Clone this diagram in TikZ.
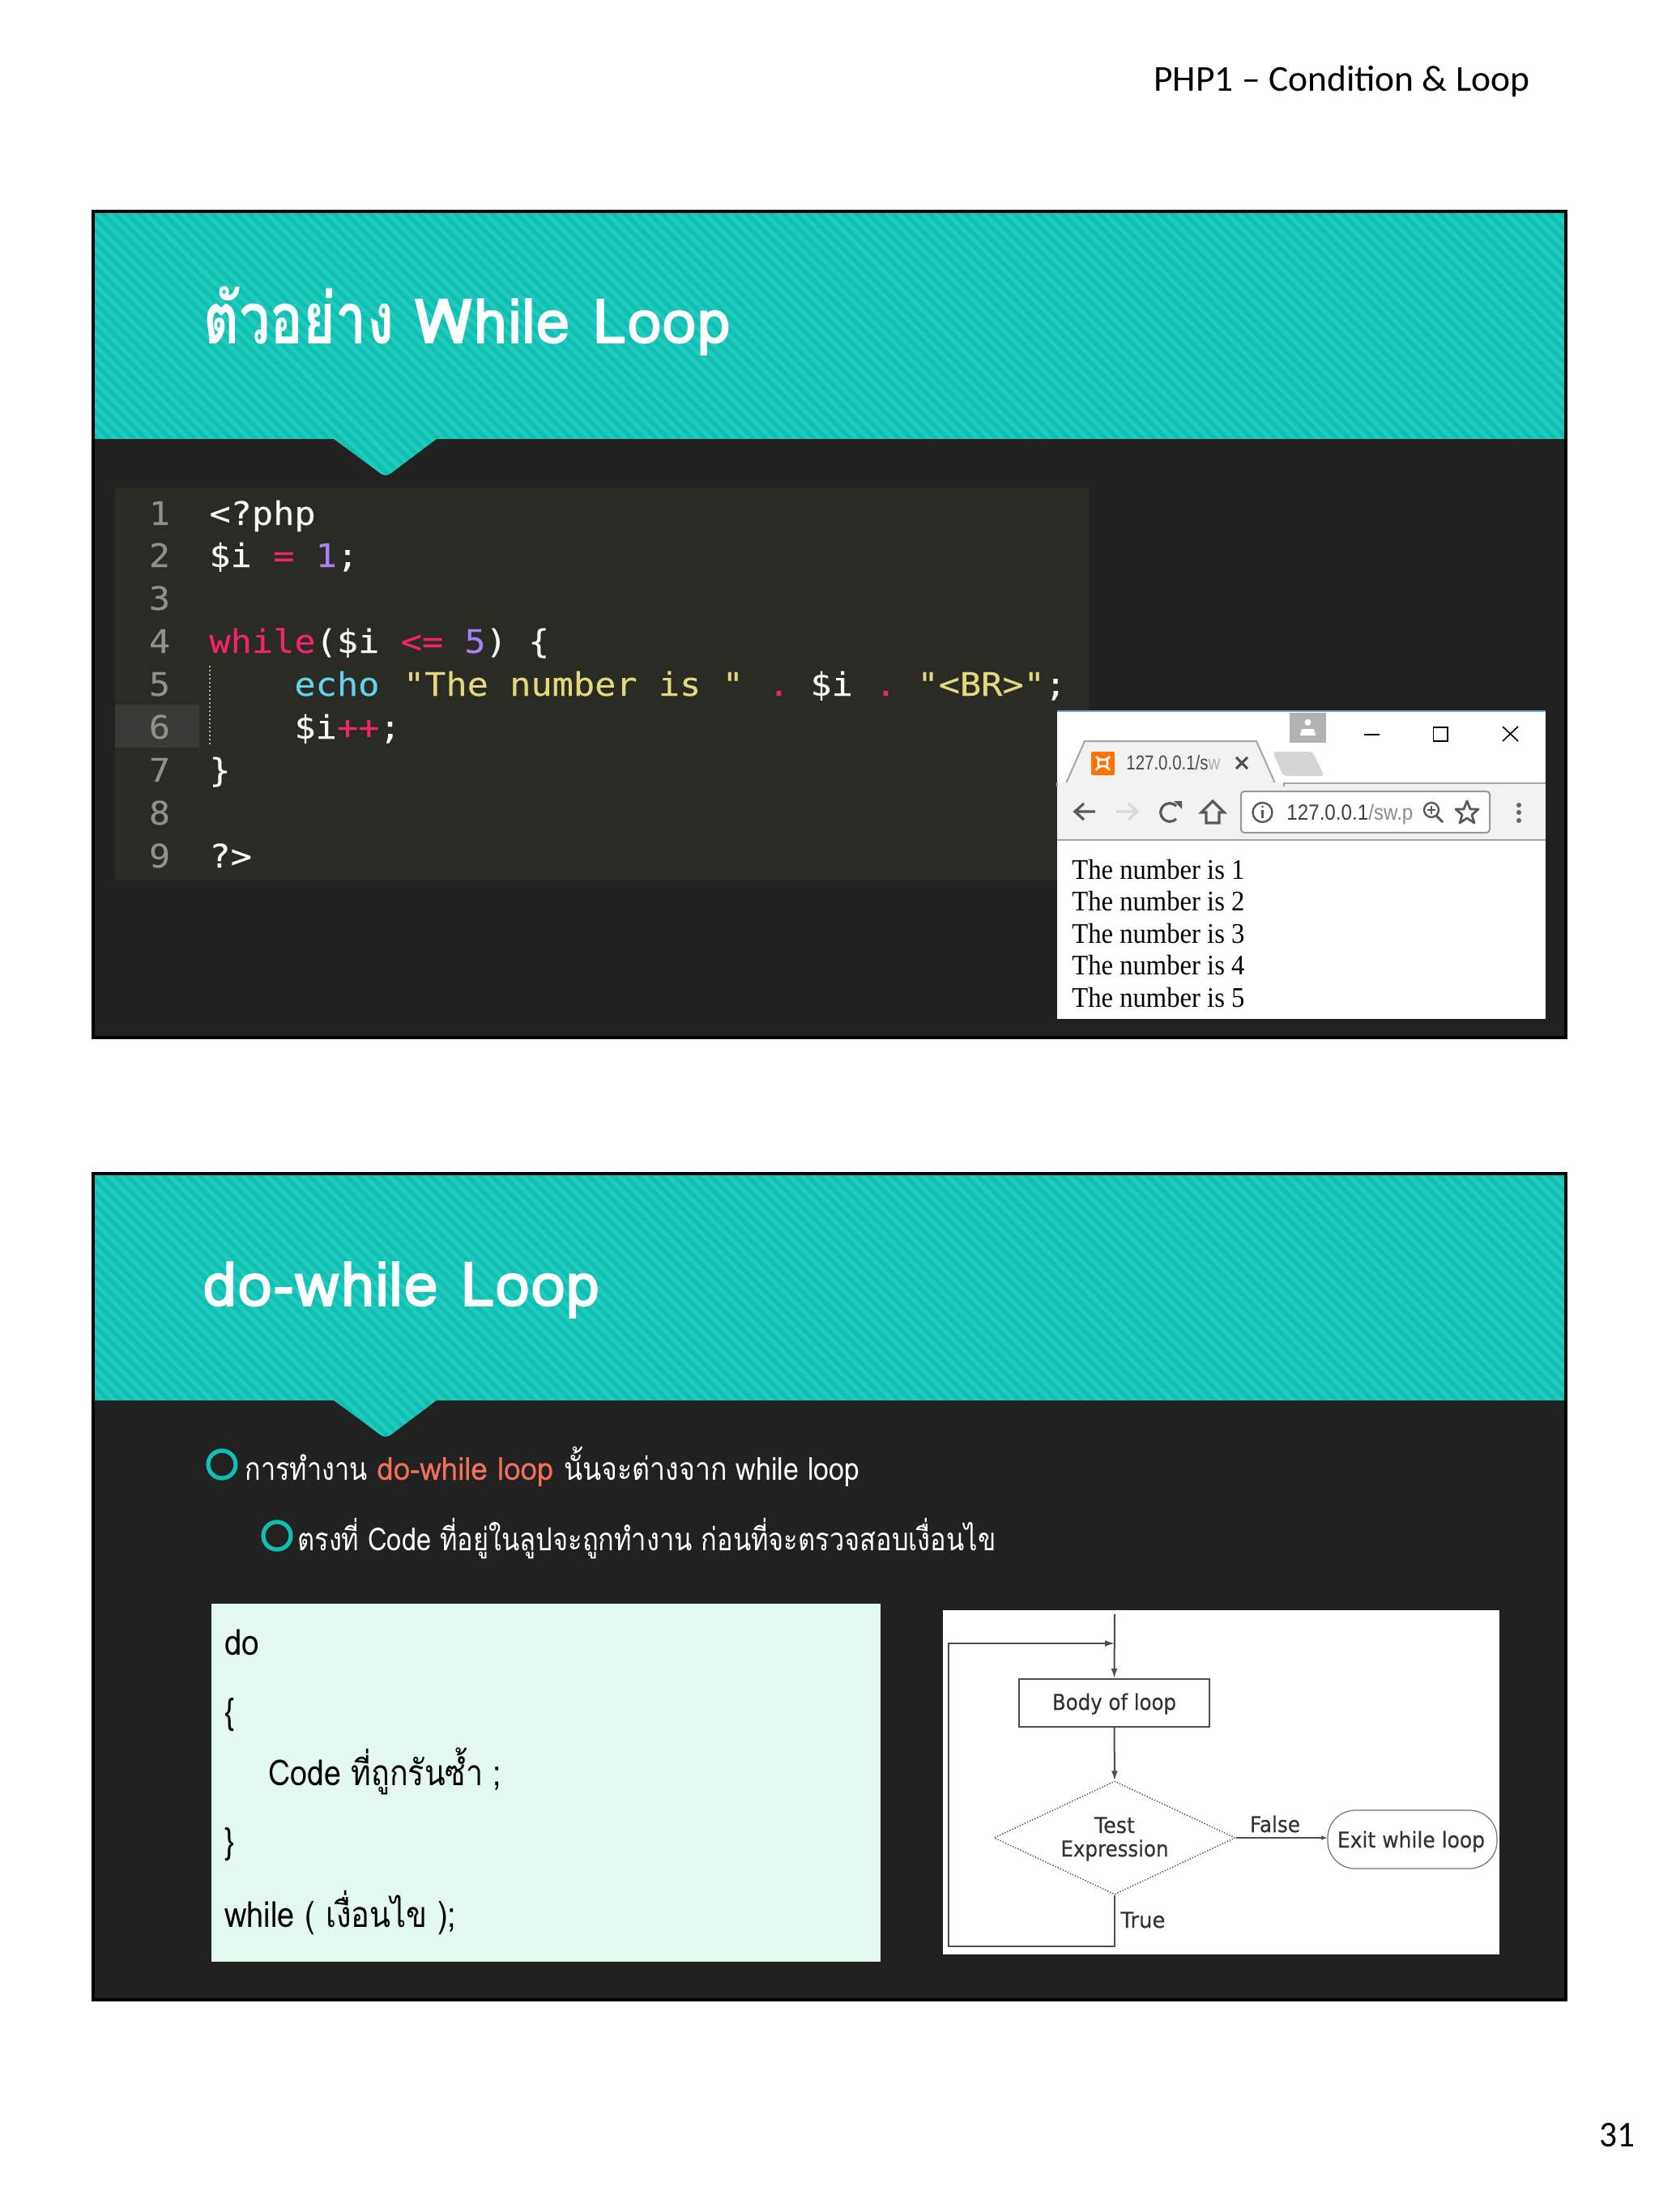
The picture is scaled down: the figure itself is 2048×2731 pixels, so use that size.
\documentclass[tikz,border=0pt]{standalone}
\usepackage{fontspec}
\usepackage{graphicx}
\usetikzlibrary{arrows.meta,shapes.geometric}
\newfontfamily\thaif[Script=Thai]{Loma}
\newfontfamily\thaifb[Script=Thai,FakeBold=0.3]{Loma}
\newfontfamily\codef[FakeBold=0.25]{DejaVu Sans Mono}
\newfontfamily\pagef{Liberation Serif}
\newfontfamily\hdrf{Carlito}
\newfontfamily\flowf[FakeBold=0.4]{DejaVu Sans}
\newfontfamily\uif{Liberation Sans}
\newlength\pxu \pxu=0.5pt
\newcommand{\fitw}[2]{\resizebox{#1\pxu}{\height}{#2}}
\newcommand{\cw}[1]{\scalebox{1.09}[1]{#1}}
\definecolor{slidebg}{HTML}{212121}
\definecolor{tealA}{HTML}{0FBFB1}
\definecolor{tealB}{HTML}{20CBBE}
\definecolor{codebg}{HTML}{2B2B26}
\definecolor{codehl}{HTML}{3A3A36}
\definecolor{lnum}{HTML}{8F908A}
\definecolor{cpink}{HTML}{F0246C}
\definecolor{cpurp}{HTML}{A97FF5}
\definecolor{ccyan}{HTML}{62D3E6}
\definecolor{cyell}{HTML}{E2D87C}
\definecolor{cwhite}{HTML}{F8F8F2}
\definecolor{mint}{HTML}{E3F9EE}
\definecolor{salmon}{HTML}{F0705A}
\definecolor{flowc}{HTML}{4A4F4F}
\definecolor{toolg}{HTML}{F2F2F2}
\tikzset{
 titlet/.style={anchor=base west,inner sep=0pt,text=white,font=\thaif\bfseries\fontsize{39pt}{39pt}\selectfont},
 titleth/.style={titlet,font=\thaif\bfseries\fontsize{44pt}{44pt}\selectfont},
 bodyt/.style={anchor=base west,inner sep=0pt,text=white,font=\thaif\fontsize{19.5pt}{19.5pt}\selectfont},
 greent/.style={anchor=base west,inner sep=0pt,text=black,font=\thaif\fontsize{22pt}{22pt}\selectfont},
 codet/.style={anchor=base west,inner sep=0pt,font=\codef\fontsize{20pt}{20pt}\selectfont},
 lnumt/.style={anchor=base,inner sep=0pt,text=lnum,font=\codef\fontsize{20pt}{20pt}\selectfont},
 paget/.style={anchor=base west,inner sep=0pt,text=black,font=\pagef\fontsize{17.5pt}{17.5pt}\selectfont},
 flowt/.style={anchor=base,inner sep=0pt,text=black!80,font=\flowf\fontsize{13.5pt}{13.5pt}\selectfont},
 hdrt/.style={anchor=base west,inner sep=0pt,font=\hdrf\fontsize{22.5pt}{22.5pt}\selectfont},
 fline/.style={draw=flowc,line width=1pt},
 farrow/.style={fline,-{Latex[length=6pt,width=4pt]}},
 ringb/.style={circle,draw=tealA,line width=2.6pt,minimum size=17pt,inner sep=0pt},
 icon/.style={line width=1.6pt,draw=black!65},
}
% slide: x0 y0 x1 y1 header-bottom
\newcommand{\slideframe}[5]{%
 \begin{scope}
 \clip (#1,#2) rectangle (#3,#5+60);
 \fill[tealA] (#1,#2) rectangle (#3,#5+60);
 \foreach \k in {-30,...,140}{
  \draw[tealB,line width=2.5pt] ({#1+\k*15},#2-2) -- ++(400,400);
 }
 \end{scope}
 \fill[slidebg] (#1,#5) -- (412,#5) -- (468,#5+41.5) .. controls (473,#5+46) and (479,#5+46) .. (484,#5+41.5) -- (539,#5) -- (#3,#5) -- (#3,#4) -- (#1,#4) -- cycle;
 \draw[black,line width=2pt] (#1,#2) rectangle (#3,#4);
}
\begin{document}
\begin{tikzpicture}[x=0.5pt,y=-0.5pt]
\useasboundingbox (0,0) rectangle (2048,2731);
\fill[white] (0,0) rectangle (2048,2731);
\node[hdrt] (hdr) at (1424,112) {\fitw{464}{PHP1 – Condition \& Loop}};
\node[hdrt] (pg) at (1974,2650) {\fitw{44}{31}};

% ---- slide 1
\slideframe{115}{261}{1933}{1281}{542}
\node[titleth] (t1a) at (251,424) {\fitw{235}{ตัวอย่าง}};
\node[titlet] (t1b) at (511,424) {\fitw{392}{While Loop}};

\fill[codebg] (142,602) rectangle (1344,1087);
\fill[codehl] (142,870) rectangle (246,923);
\draw[lnum!70,line width=.6pt,dash pattern=on 1pt off 1.5pt] (259,822) -- (259,920);
\foreach \n/\yy in {1/648,2/700,3/753,4/806,5/859,6/912,7/965,8/1018,9/1071}
 \node[lnumt] (ln\n) at (197,\yy) {\cw{\n}};
\node[codet] (c1) at (258,648) {\cw{\textcolor{cwhite}{<?php}}};
\node[codet] (c2) at (258,700) {\cw{\textcolor{cwhite}{\$i }\textcolor{cpink}{=} \textcolor{cpurp}{1}\textcolor{cwhite}{;}}};
\node[codet] (c4) at (258,806) {\cw{\textcolor{cpink}{while}\textcolor{cwhite}{(\$i }\textcolor{cpink}{<=} \textcolor{cpurp}{5}\textcolor{cwhite}{) \{}}};
\node[codet] (c5a) at (363,859) {\cw{\textcolor{ccyan}{echo}}};
\node[codet] (c5b) at (497.5,859) {\cw{\textcolor{cyell}{"The number is "}}};
\node[codet] (c5c) at (948,859) {\cw{\textcolor{cpink}{.}}};
\node[codet] (c5d) at (1000,859) {\cw{\textcolor{cwhite}{\$i}}};
\node[codet] (c5e) at (1080,859) {\cw{\textcolor{cpink}{.}}};
\node[codet] (c5f) at (1132,859) {\cw{\textcolor{cyell}{"<BR>"}\textcolor{cwhite}{;}}};
\node[codet] (c6) at (363,912) {\cw{\textcolor{cwhite}{\$i}\textcolor{cpink}{++}\textcolor{cwhite}{;}}};
\node[codet] (c7) at (258,965) {\cw{\textcolor{cwhite}{\}}}};
\node[codet] (c9) at (258,1071) {\cw{\textcolor{cwhite}{?>}}};

% browser
\fill[white] (1305,878) rectangle (1908,1258);
\draw[cyan!60!blue!60,line width=1pt] (1305,878) -- (1908,878);
\fill[toolg] (1305,967) rectangle (1908,1037);
\draw[black!35,line width=1pt] (1305,967) -- (1908,967);
\draw[black!35,line width=1pt] (1305,1037) -- (1908,1037);
\filldraw[fill=toolg,draw=black!35,line width=1pt] (1305,967) -- (1316,967) -- (1339,915) -- (1551,915) -- (1574,967) -- (1585,967) -- (1585,970) -- (1305,970) -- cycle;
\fill[toolg] (1306,966) rectangle (1584,975);
\fill[black!16,rounded corners=2pt] (1571,928) -- (1620,928) -- (1635,958) -- (1584,958) -- cycle;
\fill[black!30] (1592,880) rectangle (1637,917);
\fill[white] (1614.5,892) circle (4);
\fill[white] (1605,908) -- (1607,900) -- (1622,900) -- (1624,908) -- cycle;
\draw[black,line width=.8pt] (1684,907) -- (1703,907);
\draw[black,line width=.8pt] (1769.5,898) rectangle (1787,915);
\draw[black,line width=.8pt] (1855,897) -- (1874,915) (1855,915) -- (1874,897);
\fill[orange!90!red,rounded corners=1pt] (1347,928) rectangle (1376,957);
\draw[white,line width=1.3pt,rounded corners=1pt] (1353,934) -- (1357,938) -- (1366,938) -- (1370,934) (1353,951) -- (1357,946) -- (1366,946) -- (1370,951) (1357,938) -- (1355,942) -- (1357,946) (1366,938) -- (1368,942) -- (1366,946);
\node[anchor=base west,inner sep=0pt,text=black!70,font=\uif\fontsize{12.5pt}{12.5pt}\selectfont] (tabt) at (1390,950) {\fitw{116}{127.0.0.1/s\textcolor{black!30}{w}}};
\draw[black!70,line width=1.5pt] (1526,935) -- (1540,949) (1526,949) -- (1540,935);
\draw[black!65,line width=1.6pt] (1352,1002) -- (1328,1002) (1338,992) -- (1327,1002) -- (1338,1012);
\draw[black!15,line width=1.6pt] (1378,1002) -- (1403,1002) (1393,992) -- (1404,1002) -- (1393,1012);
\draw[icon] (1452,1011) arc[start angle=45,end angle=315,radius=11.3];
\fill[black!65] (1449,989) -- (1459,989) -- (1459,999) -- cycle;
\draw[icon] (1483,1003) -- (1497,989) -- (1511,1003) -- (1505,1003) -- (1505,1016) -- (1489,1016) -- (1489,1003) -- cycle;
\filldraw[fill=white,draw=black!40,line width=1pt,rounded corners=2pt] (1532,977) rectangle (1839,1028);
\draw[black!65,line width=1.2pt] (1558.5,1003) circle (12);
\draw[black!65,line width=1.4pt] (1558.5,1000) -- (1558.5,1010);
\fill[black!65] (1558.5,996) circle (1.5);
\node[anchor=base west,inner sep=0pt,text=black!75,font=\uif\fontsize{13.5pt}{13.5pt}\selectfont] (urlt) at (1588,1012) {\fitw{156}{127.0.0.1\textcolor{black!45}{/sw.p}}};
\draw[black!65,line width=1.2pt] (1767,1000) circle (9);
\draw[black!65,line width=1.5pt] (1773,1007) -- (1781,1015);
\draw[black!65,line width=1pt] (1762,1000) -- (1772,1000) (1767,995) -- (1767,1005);
\draw[black!65,line width=1.4pt,line join=round] (1811,989) -- (1815,999) -- (1825,999) -- (1817,1006) -- (1820,1016) -- (1811,1010) -- (1802,1016) -- (1805,1006) -- (1797,999) -- (1807,999) -- cycle;
\foreach \dy in {994,1003,1013} \fill[black!60] (1875,\dy) circle (3);
\foreach \n/\yy in {1/1085,2/1124,3/1164,4/1203,5/1243}
 \node[paget] (p\n) at (1323,\yy) {\fitw{213}{The number is \n}};

% ---- slide 2
\slideframe{115}{1449}{1933}{2469}{1729}
\node[titlet] (t2) at (250,1613) {\fitw{492}{do-while Loop}};

\node[ringb] (r1) at (274,1808) {};
\node[bodyt] (b1a) at (302,1827) {\fitw{151}{การทำงาน}};
\node[bodyt,text=salmon,font=\thaifb\fontsize{19.5pt}{19.5pt}\selectfont] (b1b) at (465,1827) {\fitw{218}{do-while loop}};
\node[bodyt] (b1c) at (696,1827) {\fitw{365}{นั้นจะต่างจาก while loop}};
\node[ringb] (r2) at (342,1896) {};
\node[bodyt] (b2) at (367,1914) {\fitw{862}{ตรงที่ Code ที่อยู่ในลูปจะถูกทำงาน ก่อนที่จะตรวจสอบเงื่อนไข}};

\fill[mint] (261,1980) rectangle (1087,2422);
\node[greent] (g1) at (277,2043) {\fitw{43}{do}};
\node[greent] (g2) at (277,2128) {\fitw{12}{\{}};
\node[greent] (g3) at (331,2204) {\fitw{288}{Code ที่ถูกรันซ้ำ ;}};
\node[greent] (g4) at (277,2288) {\fitw{12}{\}}};
\node[greent] (g5) at (277,2379) {\fitw{286}{while ( เงื่อนไข );}};

% flowchart
\fill[white] (1164,1988) rectangle (1851,2413);
\node[draw=flowc,line width=1pt,minimum width=117.5pt,minimum height=29.5pt,inner sep=0pt] (body) at (1375.5,2102.5) {};
\node[flowt,anchor=base] (bodyt) at (1375.5,2111) {\fitw{153}{Body of loop}};
\node[diamond,aspect=2.13,draw=flowc,line width=.7pt,densely dotted,minimum width=149pt,minimum height=70pt,inner sep=0pt] (test) at (1376,2269) {};
\node[flowt] (testa) at (1376,2263) {\fitw{50}{Test}};
\node[flowt] (testb) at (1376,2292) {\fitw{133}{Expression}};
\node[draw=flowc!80,line width=.6pt,rounded corners=17pt,minimum width=104.5pt,minimum height=36pt,inner sep=0pt] (exit) at (1743.5,2271) {};
\node[flowt] (exitt) at (1742,2281) {\fitw{182}{Exit while loop}};
\node[flowt] (falset) at (1574,2262) {\fitw{62}{False}};
\node[flowt,anchor=base west] (truet) at (1383,2380) {\fitw{55}{True}};
\coordinate (top) at (1376,1993);
\coordinate (mrg) at (1376,2029);
\coordinate (lt) at (1171,2029);
\coordinate (lb) at (1171,2403);
\coordinate (bm) at (1376,2403);
\draw[farrow] (top) -- (body.north);
\draw[farrow] (body.south) -- (test.north);
\draw[farrow] (test.south) -- (bm) -- (lb) -- (lt) -- (mrg);
\draw[fline,-{Latex[length=3.5pt,width=3pt]}] (test.east) -- (test.east -| exit.west);
\end{tikzpicture}
\end{document}
